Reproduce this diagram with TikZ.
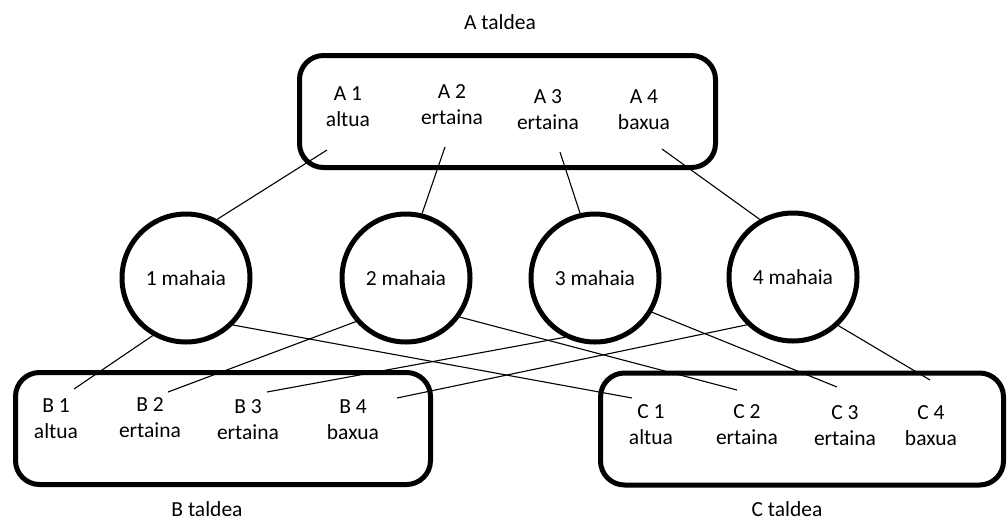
\documentclass[tikz,border=0pt]{standalone}
\usepackage{fontspec}
\setmainfont{Carlito}
\begin{document}
\begin{tikzpicture}[x=1pt,y=-1pt,
  every node/.style={font=\fontsize{21.5}{26}\selectfont},
  team/.style={draw, line width=5pt, rounded corners=24pt, minimum height=112pt, inner sep=0pt},
  table/.style={draw, circle, line width=5pt, minimum size=128pt, inner sep=0pt},
  player/.style={align=center, inner sep=0pt},
  link/.style={line width=1.1pt}]
\useasboundingbox (0,0) rectangle (1008,523);

% team boxes
\node[team, minimum width=416pt] (teamA) at (507.5,111.5) {};
\node[team, minimum width=415pt] (teamB) at (223,428.5) {};
\node[team, minimum width=403pt] (teamC) at (802,429) {};

% team captions
\node (capA) at (500,22) {A taldea};
\node (capB) at (207,509) {B taldea};
\node (capC) at (787,509) {C taldea};

% tables
\node[table] (t1) at (186,278) {1 mahaia};
\node[table] (t2) at (406,278) {2 mahaia};
\node[table] (t3) at (595,278) {3 mahaia};
\node[table] (t4) at (793,277) {4 mahaia};

% players
\node[player] (a1) at (348,107) {A 1\\altua};
\node[player] (a2) at (452,105) {A 2\\ertaina};
\node[player] (a3) at (548,110) {A 3\\ertaina};
\node[player] (a4) at (644,110) {A 4\\baxua};
\node[player] (b1) at (56,419) {B 1\\altua};
\node[player] (b2) at (150,418) {B 2\\ertaina};
\node[player] (b3) at (248,420) {B 3\\ertaina};
\node[player] (b4) at (353,420) {B 4\\baxua};
\node[player] (c1) at (651,425) {C 1\\altua};
\node[player] (c2) at (747,425) {C 2\\ertaina};
\node[player] (c3) at (845,426) {C 3\\ertaina};
\node[player] (c4) at (931,426) {C 4\\baxua};

% loose ends of the connectors next to each player
\coordinate (ea1) at (327,150);
\coordinate (ea2) at (445,147);
\coordinate (ea3) at (560,152);
\coordinate (ea4) at (662,149);
\coordinate (eb1) at (74,389);
\coordinate (eb2) at (168,392);
\coordinate (eb3) at (267,392);
\coordinate (eb4) at (397,398);
\coordinate (ec1) at (632,398);
\coordinate (ec2) at (737,390);
\coordinate (ec3) at (837,387);
\coordinate (ec4) at (930,380);

% seating connectors
\draw[link] (ea1) -- (t1.62);
\draw[link] (ea2) -- (t2.76);
\draw[link] (ea3) -- (t3.103);
\draw[link] (ea4) -- (t4.120);
\draw[link] (t1.240) -- (eb1);
\draw[link] (t1.315) -- (ec1);
\draw[link] (t2.221) -- (eb2);
\draw[link] (t2.324) -- (ec2);
\draw[link] (t3.243) -- (eb3);
\draw[link] (t3.329) -- (ec3);
\draw[link] (t4.226) -- (eb4);
\draw[link] (t4.313) -- (ec4);
\end{tikzpicture}
\end{document}
